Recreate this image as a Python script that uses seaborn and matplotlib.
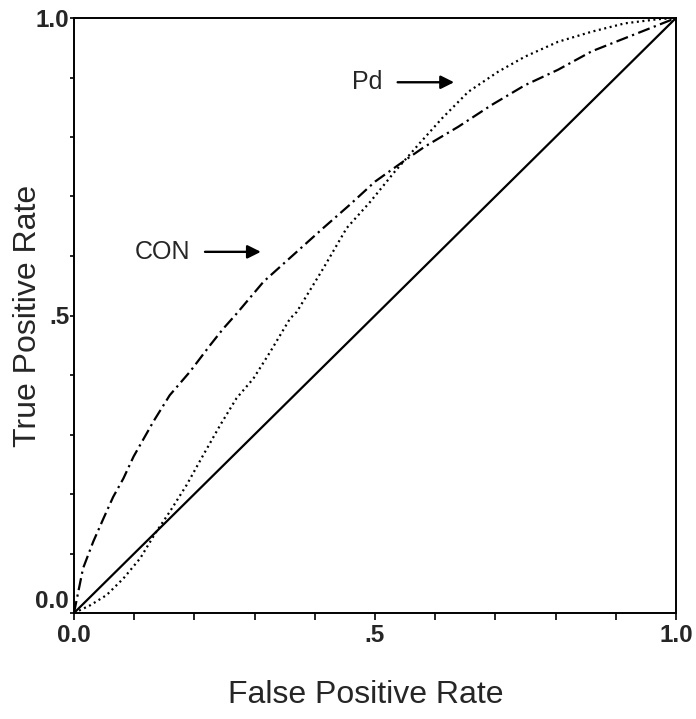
import matplotlib
matplotlib.use('Agg')
import matplotlib.pyplot as plt
from matplotlib.ticker import FixedLocator, FixedFormatter, MultipleLocator
import seaborn as sns
import pandas as pd

# ROC curves
diag_x = [0.0, 1.0]
diag_y = [0.0, 1.0]

con_x = [0.0, 0.015, 0.032, 0.049, 0.065, 0.082, 0.099, 0.132, 0.159, 0.193, 0.226, 0.248,
         0.27, 0.315, 0.37, 0.414, 0.458, 0.5, 0.55, 0.583, 0.638, 0.694, 0.749, 0.804,
         0.86, 0.915, 0.97, 1.0]
con_y = [0.0, 0.075, 0.12, 0.159, 0.195, 0.226, 0.263, 0.322, 0.366, 0.406, 0.45, 0.478,
         0.503, 0.557, 0.607, 0.647, 0.686, 0.725, 0.761, 0.784, 0.817, 0.854, 0.887, 0.913,
         0.944, 0.966, 0.988, 1.0]

pd_x = [0.0, 0.027, 0.054, 0.082, 0.11, 0.135, 0.159, 0.187, 0.215, 0.243, 0.27, 0.298,
        0.326, 0.359, 0.37, 0.414, 0.453, 0.492, 0.533, 0.572, 0.611, 0.655, 0.705, 0.749,
        0.804, 0.86, 0.915, 0.97, 1.0]
pd_y = [0.0, 0.013, 0.03, 0.058, 0.092, 0.134, 0.17, 0.215, 0.266, 0.316, 0.361, 0.394,
        0.439, 0.495, 0.506, 0.579, 0.647, 0.691, 0.742, 0.787, 0.831, 0.876, 0.91, 0.935,
        0.96, 0.977, 0.991, 0.998, 1.0]

tick_pos = [0.0, 0.5, 1.0]
tick_labels = ['0.0', '.5', '1.0']

sns.set_style('ticks')
plt.rcParams['font.family'] = ['Liberation Sans', 'DejaVu Sans']

fig, ax = plt.subplots(figsize=(6.96, 7.19), dpi=100)
fig.subplots_adjust(left=74 / 696, right=676 / 696, bottom=1 - 613 / 719, top=1 - 18 / 719)

sns.lineplot(x=diag_x, y=diag_y, ax=ax, color='black', linewidth=1.6)
sns.lineplot(x=con_x, y=con_y, ax=ax, color='black', linewidth=1.6,
             linestyle=(0, (5.5, 2.0, 1.0, 2.0)))
sns.lineplot(x=pd_x, y=pd_y, ax=ax, color='black', linewidth=1.6,
             linestyle=(0, (0.9, 1.6)))

ax.set_xlim(0, 1)
ax.set_ylim(0, 1)
ax.margins(0)

for s in ax.spines.values():
    s.set_visible(True)
    s.set_linewidth(1.4)
    s.set_color('black')

for axis in (ax.xaxis, ax.yaxis):
    axis.set_major_locator(FixedLocator(tick_pos))
    axis.set_major_formatter(FixedFormatter(tick_labels))
    axis.set_minor_locator(MultipleLocator(0.1))

ax.tick_params(axis='x', which='both', direction='out', length=5, width=1.2,
               color='black', pad=3, labelsize=17.5)
ax.tick_params(axis='y', which='both', direction='out', length=3, width=1.2,
               color='black', pad=0.5, labelsize=17.5)
for lab in ax.get_xticklabels() + ax.get_yticklabels():
    lab.set_fontweight('bold')
ax.get_yticklabels()[0].set_va('bottom')

ax.set_xlabel('False Positive Rate', fontsize=23)
ax.xaxis.label.set_va('center')
ax.xaxis.set_label_coords(0.485, -0.138)
ax.set_ylabel('True Positive Rate', fontsize=23)
ax.yaxis.label.set_va('center')
ax.yaxis.set_label_coords(-0.076, 0.5)

arrow = dict(arrowstyle='-|>', color='black', lw=1.7, mutation_scale=20)
ax.text(0.101, 0.607, 'CON', fontsize=18, ha='left', va='center')
ax.annotate('', xy=(0.315, 0.607), xytext=(0.213, 0.607), arrowprops=arrow)
ax.text(0.462, 0.892, 'Pd', fontsize=18, ha='left', va='center')
ax.annotate('', xy=(0.636, 0.892), xytext=(0.533, 0.892), arrowprops=arrow)

fig.savefig('out.png', dpi=100)
